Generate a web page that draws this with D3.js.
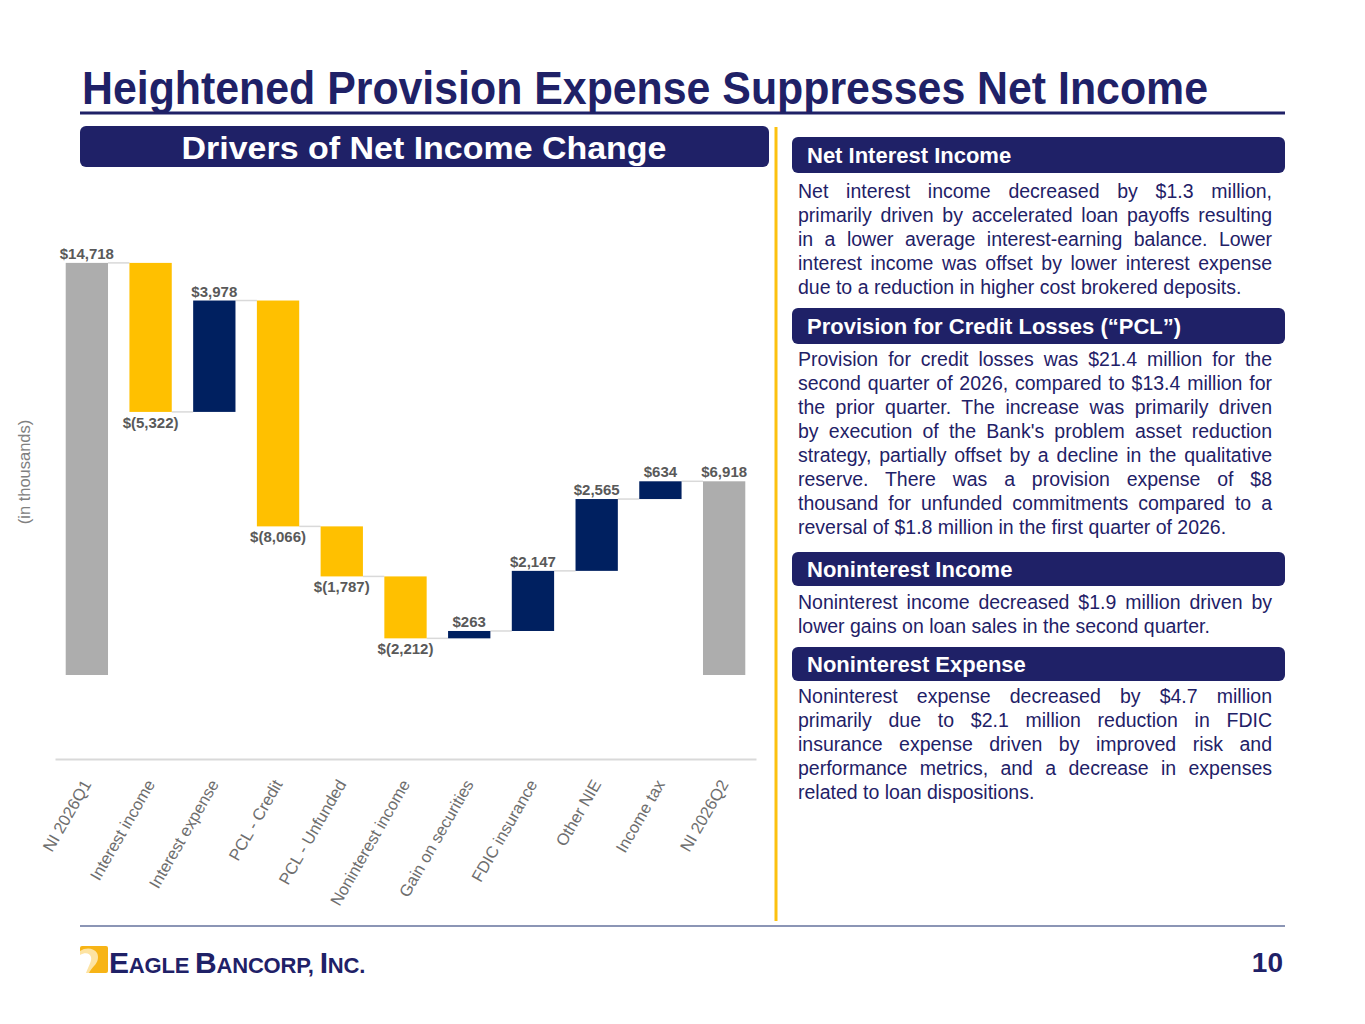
<html><head>
<meta charset="utf-8">
<title>Heightened Provision Expense Suppresses Net Income</title>
<script src="https://d3js.org/d3.v7.min.js"></script>
<style>
body { margin: 0; background: #fff; }
svg text { font-family: "Liberation Sans", Arial, sans-serif; }
</style>
</head>
<body>
<div id="slide"></div>
<script>

// waterfall data (in thousands)
var categories = ["NI 2026Q1", "Interest income", "Interest expense", "PCL - Credit", "PCL - Unfunded",
  "Noninterest income", "Gain on securities", "FDIC insurance", "Other NIE", "Income tax", "NI 2026Q2"];
var changes = [14718, -5322, 3978, -8066, -1787, -2212, 263, 2147, 2565, 634, 6918];
var isTotal = [true, false, false, false, false, false, false, false, false, false, true];
var yDomain = [-3000, 16000];

var sectionTitles = ["Net Interest Income", "Provision for Credit Losses (\u201cPCL\u201d)", "Noninterest Income", "Noninterest Expense"];
var sectionLines = [
  ["Net interest income decreased by $1.3 million,",
   "primarily driven by accelerated loan payoffs resulting",
   "in a lower average interest-earning balance. Lower",
   "interest income was offset by lower interest expense",
   "due to a reduction in higher cost brokered deposits."],
  ["Provision for credit losses was $21.4 million for the",
   "second quarter of 2026, compared to $13.4 million for",
   "the prior quarter. The increase was primarily driven",
   "by execution of the Bank's problem asset reduction",
   "strategy, partially offset by a decline in the qualitative",
   "reserve. There was a provision expense of $8",
   "thousand for unfunded commitments compared to a",
   "reversal of $1.8 million in the first quarter of 2026."],
  ["Noninterest income decreased $1.9 million driven by",
   "lower gains on loan sales in the second quarter."],
  ["Noninterest expense decreased by $4.7 million",
   "primarily due to $2.1 million reduction in FDIC",
   "insurance expense driven by improved risk and",
   "performance metrics, and a decrease in expenses",
   "related to loan dispositions."]
];

var navy = "#1f2167";

var svg = d3.select("#slide")
  .append("svg")
    .attr("width", 1365)
    .attr("height", 1024);

// title + rules
svg.append("text")
  .attr("x", 82).attr("y", 104)
  .attr("textLength", 1126).attr("lengthAdjust", "spacingAndGlyphs")
  .style("font-size", "46px").style("font-weight", "bold")
  .attr("fill", navy)
  .text("Heightened Provision Expense Suppresses Net Income");

svg.append("line")
  .attr("x1", 80).attr("x2", 1285).attr("y1", 113).attr("y2", 113)
  .attr("stroke", navy).attr("stroke-width", 3);

svg.append("line")
  .attr("x1", 80).attr("x2", 1285).attr("y1", 926).attr("y2", 926)
  .attr("stroke", "#8b95b5").attr("stroke-width", 2);

svg.append("line")
  .attr("x1", 776).attr("x2", 776).attr("y1", 127).attr("y2", 921)
  .attr("stroke", "#fcc10f").attr("stroke-width", 3);

// left banner
svg.append("rect")
  .attr("x", 80).attr("y", 126).attr("width", 689).attr("height", 41)
  .attr("rx", 6).attr("fill", navy);

svg.append("text")
  .attr("x", 424).attr("y", 159)
  .attr("text-anchor", "middle")
  .attr("textLength", 485).attr("lengthAdjust", "spacingAndGlyphs")
  .style("font-size", "32px").style("font-weight", "bold")
  .attr("fill", "#fff")
  .text("Drivers of Net Income Change");

// ---------- waterfall ----------
var cum = 0;
var steps = categories.map(function(c, i) {
  var s;
  if (isTotal[i]) {
    s = { cat: c, v: changes[i], y0: 0, y1: changes[i], kind: "total" };
    cum = changes[i];
  } else {
    s = { cat: c, v: changes[i], y0: cum, y1: cum + changes[i], kind: changes[i] < 0 ? "down" : "up" };
    cum += changes[i];
  }
  return s;
});

var colors = { total: "#adadad", down: "#ffc000", up: "#002060" };

var x = d3.scaleBand()
  .domain(categories)
  .range([55, 756])
  .paddingInner(0.336)
  .paddingOuter(0.168);

var y = d3.scaleLinear()
  .domain(yDomain)
  .range([759, 227]);

var chart = svg.append("g");

// connectors
chart.selectAll("line.conn")
  .data(steps.slice(0, -1))
  .enter().append("line")
    .attr("class", "conn")
    .attr("x1", function(d) { return x(d.cat) + x.bandwidth(); })
    .attr("x2", function(d, i) { return x(categories[i + 1]); })
    .attr("y1", function(d) { return y(d.y1); })
    .attr("y2", function(d) { return y(d.y1); })
    .attr("stroke", "#d9d9d9")
    .attr("stroke-width", 1.5);

chart.selectAll("rect.bar")
  .data(steps)
  .enter().append("rect")
    .attr("class", "bar")
    .attr("x", function(d) { return x(d.cat); })
    .attr("width", x.bandwidth())
    .attr("y", function(d) { return y(Math.max(d.y0, d.y1)); })
    .attr("height", function(d) { return Math.abs(y(d.y0) - y(d.y1)); })
    .attr("fill", function(d) { return colors[d.kind]; });

var fmt = d3.format(",");
chart.selectAll("text.val")
  .data(steps)
  .enter().append("text")
    .attr("class", "val")
    .attr("x", function(d) { return x(d.cat) + x.bandwidth() / 2; })
    .attr("y", function(d) {
      return d.kind == "down" ? y(Math.min(d.y0, d.y1)) + 16 : y(Math.max(d.y0, d.y1)) - 4;
    })
    .attr("text-anchor", "middle")
    .style("font-size", "15px").style("font-weight", "bold")
    .attr("fill", "#595959")
    .text(function(d) { return d.v < 0 ? "$(" + fmt(-d.v) + ")" : "$" + fmt(d.v); });

var xAxis = chart.append("g")
  .attr("transform", "translate(0," + y(yDomain[0]) + ")")
  .call(d3.axisBottom(x).tickSize(0));

xAxis.select(".domain").attr("stroke", "#d9d9d9").attr("stroke-width", 2);
xAxis.selectAll(".tick text")
  .attr("x", 0).attr("y", 0).attr("dy", 0)
  .attr("transform", "translate(5,25) rotate(-60)")
  .attr("text-anchor", "end")
  .style("font-size", "16.5px")
  .style("font-family", "'Liberation Sans', Arial, sans-serif")
  .attr("fill", "#6e6e6e");

svg.append("text")
  .attr("transform", "translate(30,472) rotate(-90)")
  .attr("text-anchor", "middle")
  .style("font-size", "16.5px")
  .attr("fill", "#808080")
  .text("(in thousands)");

// ---------- right column ----------
var boxTops = [137, 308, 552, 647];
var boxHeights = [36, 36, 34, 34];
var textTops = [198, 366, 609, 703];
var colX = 798, colW = 474;

var right = svg.append("g");
sectionTitles.forEach(function(t, i) {
  right.append("rect")
    .attr("x", 792).attr("y", boxTops[i]).attr("width", 493).attr("height", boxHeights[i])
    .attr("rx", 6).attr("fill", navy);
  right.append("text")
    .attr("x", 807).attr("y", boxTops[i] + boxHeights[i] / 2 + 8)
    .style("font-size", "22px").style("font-weight", "bold")
    .attr("fill", "#fff")
    .text(t);

  sectionLines[i].forEach(function(line, j) {
    var tx = right.append("text")
      .attr("x", colX).attr("y", textTops[i] + j * 24)
      .style("font-size", "19.5px")
      .attr("fill", navy)
      .text(line);
    if (j < sectionLines[i].length - 1) {
      var natural = tx.node().getComputedTextLength();
      var gaps = line.split(" ").length - 1;
      if (gaps > 0) tx.style("word-spacing", ((colW - natural) / gaps) + "px");
    }
  });
});

// ---------- footer ----------
svg.append("text")
  .attr("x", 1283).attr("y", 972)
  .attr("text-anchor", "end")
  .style("font-size", "28px").style("font-weight", "bold")
  .attr("fill", navy)
  .text("10");

// logo mark: gold tile with a light eagle-head profile
svg.append("rect")
  .attr("x", 80).attr("y", 946).attr("width", 28).attr("height", 27)
  .attr("rx", 2).attr("fill", "#f7b416");
svg.append("path")
  .attr("d", "M80,951 C86,947 94,948 97,953 C99,957 98,962 94,966 C92,968 90,971 89,973 H80 Z")
  .attr("fill", "#fde3a2");
svg.append("path")
  .attr("d", "M80,955 C85,952 90,953 91,957 C92,961 89,965 86,973 H80 Z")
  .attr("fill", "#ffffff");

var logo = svg.append("text")
  .attr("x", 109).attr("y", 973)
  .attr("fill", navy)
  .style("font-weight", "bold")
  .style("letter-spacing", "-0.2px");
[["E", 30], ["AGLE ", 22], ["B", 30], ["ANCORP, ", 22], ["I", 30], ["NC.", 22]].forEach(function(p) {
  logo.append("tspan").style("font-size", p[1] + "px").text(p[0]);
});

</script>
</body></html>
